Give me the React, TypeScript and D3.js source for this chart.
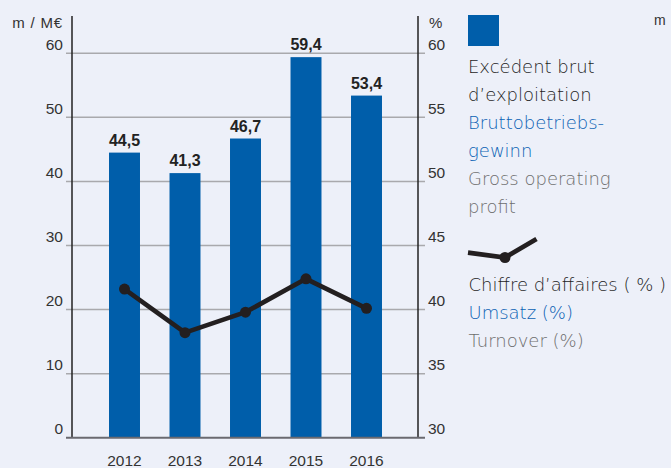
import React from "react";
import * as d3 from "d3";

const years = ["2012", "2013", "2014", "2015", "2016"];
const profit = [44.5, 41.3, 46.7, 59.4, 53.4];
const profitLabels = ["44,5", "41,3", "46,7", "59,4", "53,4"];
const turnoverPct = [41.6, 38.2, 39.8, 42.4, 40.1];
const leftTicks = [0, 10, 20, 30, 40, 50, 60];
const rightTicks = [30, 35, 40, 45, 50, 55, 60];
const legend1 = [
  { t: "Excédent brut", c: "#1e1e1e" },
  { t: "d\u2019exploitation", c: "#1e1e1e" },
  { t: "Bruttobetriebs-", c: "#0b62b4" },
  { t: "gewinn", c: "#0b62b4" },
  { t: "Gross operating", c: "#6e6e6e" },
  { t: "profit", c: "#6e6e6e" },
];
const legend2 = [
  { t: "Chiffre d\u2019affaires ( % )", c: "#1e1e1e" },
  { t: "Umsatz (%)", c: "#0b62b4" },
  { t: "Turnover (%)", c: "#6e6e6e" },
];

const W = 671;
const H = 468;
const BLUE = "#005eaa";
const DARK = "#231f20";
const tickFont = "'Liberation Sans', Arial, sans-serif";
const legFont = "'DejaVu Sans', sans-serif";

export default function App() {
  const x = d3
    .scaleBand<string>()
    .domain(years)
    .range([94.25, 396.75])
    .paddingInner(0.488)
    .paddingOuter(0.244);
  const yL = d3.scaleLinear().domain([0, 60]).range([437.7, 53.3]);
  const yR = d3.scaleLinear().domain([30, 60]).range([437.7, 53.3]);
  const cx = (d: string) => (x(d) as number) + x.bandwidth() / 2;
  const linePts: [number, number][] = years.map((yr, i) => [cx(yr), yR(turnoverPct[i])]);
  const line = d3.line()(linePts) || "";
  const legLine = d3.line()([
    [468, 252.7],
    [505, 257.5],
    [536.5, 239],
  ]) || "";

  return (
    <svg
      width={W}
      height={H}
      style={{ position: "absolute", left: 0, top: 0, display: "block" }}
    >
      <rect x={0} y={0} width={W} height={H} fill="#edf0f9" />
      {leftTicks.slice(1).map((t) => (
        <line key={"g" + t} x1={66} x2={425} y1={yL(t)} y2={yL(t)} stroke="#a9a9ad" strokeWidth={1.5} />
      ))}
      {years.map((yr, i) => (
        <rect key={"b" + yr} x={x(yr)} y={yL(profit[i])} width={x.bandwidth()} height={yL(0) - yL(profit[i])} fill={BLUE} />
      ))}
      {years.map((yr, i) => (
        <text
          key={"bl" + yr}
          x={cx(yr)}
          y={yL(profit[i]) - 7}
          textAnchor="middle"
          fontFamily={tickFont}
          fontWeight="bold"
          fontSize={16}
          fill="#222"
        >
          {profitLabels[i]}
        </text>
      ))}
      <line x1={72} x2={72} y1={16} y2={438} stroke="#222" strokeWidth={1.5} />
      <line x1={418} x2={418} y1={16} y2={438} stroke="#222" strokeWidth={1.5} />
      <line x1={66} x2={425} y1={yL(0)} y2={yL(0)} stroke="#6a6a70" strokeWidth={2} />
      {leftTicks.map((t) => (
        <text key={"lt" + t} x={63} y={yL(t) - 3.5} textAnchor="end" fontFamily={tickFont} fontSize={15.5} fill="#333">
          {t}
        </text>
      ))}
      {rightTicks.map((t) => (
        <text key={"rt" + t} x={428} y={yR(t) - 3.5} textAnchor="start" fontFamily={tickFont} fontSize={15.5} fill="#333">
          {t}
        </text>
      ))}
      <text x={63} y={27.5} textAnchor="end" fontFamily={tickFont} fontSize={15} fill="#333" letterSpacing={0.8}>
        m / M€
      </text>
      <text x={429} y={27.5} textAnchor="start" fontFamily={tickFont} fontSize={15} fill="#333">
        %
      </text>
      <text x={654} y={24.5} textAnchor="start" fontFamily={tickFont} fontSize={14} fill="#333">
        m
      </text>
      {years.map((yr) => (
        <text key={"yl" + yr} x={cx(yr)} y={466} textAnchor="middle" fontFamily={tickFont} fontSize={15.5} fill="#333">
          {yr}
        </text>
      ))}
      <path d={line} fill="none" stroke={DARK} strokeWidth={4.7} strokeLinejoin="round" />
      {linePts.map((p, i) => (
        <circle key={"c" + i} cx={p[0]} cy={p[1]} r={5.5} fill={DARK} />
      ))}
      <rect x={468} y={15} width={31} height={31} fill={BLUE} />
      {legend1.map((l, i) => (
        <text key={"l1" + i} x={468} y={72.7 + i * 28} fontFamily={legFont} fontWeight={200} fontSize={18} fill={l.c}>
          {l.t}
        </text>
      ))}
      <path d={legLine} fill="none" stroke={DARK} strokeWidth={4.7} />
      <circle cx={505} cy={257.5} r={5.5} fill={DARK} />
      {legend2.map((l, i) => (
        <text key={"l2" + i} x={468.5} y={291 + i * 28} fontFamily={legFont} fontWeight={200} fontSize={18} fill={l.c}>
          {l.t}
        </text>
      ))}
    </svg>
  );
}
